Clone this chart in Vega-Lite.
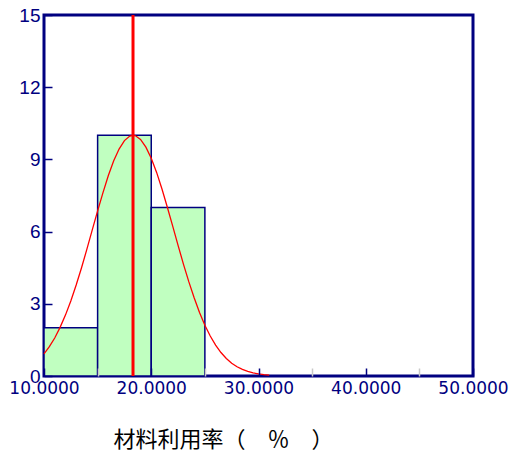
{
  "$schema": "https://vega.github.io/schema/vega-lite/v6.json",
  "width": 429,
  "height": 361,
  "autosize": "none",
  "padding": {"left": 44, "top": 15, "right": 39, "bottom": 79},
  "background": "white",
  "config": {"view": {"stroke": "#000080", "strokeWidth": 3}},
  "datasets": {
    "bins": [
      {"lo": 10, "hi": 15, "count": 2},
      {"lo": 15, "hi": 20, "count": 10},
      {"lo": 20, "hi": 25, "count": 7}
    ],
    "curve": [
      {"x": 10, "y": 0.92}, {"x": 10.5, "y": 1.22}, {"x": 11, "y": 1.58}, {"x": 11.5, "y": 2.02},
      {"x": 12, "y": 2.53}, {"x": 12.5, "y": 3.12}, {"x": 13, "y": 3.78}, {"x": 13.5, "y": 4.5},
      {"x": 14, "y": 5.27}, {"x": 14.5, "y": 6.07}, {"x": 15, "y": 6.86}, {"x": 15.5, "y": 7.62},
      {"x": 16, "y": 8.33}, {"x": 16.5, "y": 8.94}, {"x": 17, "y": 9.43}, {"x": 17.5, "y": 9.78},
      {"x": 18, "y": 9.97}, {"x": 18.3, "y": 10}, {"x": 18.5, "y": 9.99}, {"x": 19, "y": 9.83},
      {"x": 19.5, "y": 9.51}, {"x": 20, "y": 9.05}, {"x": 20.5, "y": 8.46}, {"x": 21, "y": 7.77},
      {"x": 21.5, "y": 7.01}, {"x": 22, "y": 6.23}, {"x": 22.5, "y": 5.43}, {"x": 23, "y": 4.65},
      {"x": 23.5, "y": 3.92}, {"x": 24, "y": 3.25}, {"x": 24.5, "y": 2.64}, {"x": 25, "y": 2.11},
      {"x": 25.5, "y": 1.66}, {"x": 26, "y": 1.28}, {"x": 26.5, "y": 0.975}, {"x": 27, "y": 0.727},
      {"x": 27.5, "y": 0.533}, {"x": 28, "y": 0.385}, {"x": 28.5, "y": 0.273}, {"x": 29, "y": 0.19},
      {"x": 29.5, "y": 0.13}, {"x": 30, "y": 0.087}, {"x": 30.5, "y": 0.058}, {"x": 31, "y": 0.037}
    ],
    "mean": [{"mean": 18.3}]
  },
  "layer": [
    {
      "data": {"name": "bins"},
      "mark": {"type": "rect", "fill": "#c0ffc0", "stroke": "#000080", "strokeWidth": 1.5},
      "encoding": {
        "x": {
          "field": "lo", "type": "quantitative",
          "scale": {"domain": [10, 50], "nice": false, "zero": false},
          "axis": {
            "values": [10, 15, 20, 25, 30, 35, 40, 45, 50],
            "labelExpr": "datum.value % 10 === 0 ? format(datum.value, '.4f') : ''",
            "domain": false, "grid": false,
            "tickSize": -8, "tickWidth": 1.5,
            "tickColor": {"condition": {"test": "datum.value % 10 !== 0", "value": "#c8c8c8"}, "value": "#000080"},
            "labelColor": "#000080", "labelFont": "DejaVu Sans", "labelFontSize": 17,
            "labelPadding": 12, "labelFlush": false, "labelOverlap": false,
            "zindex": 1,
            "title": "材料利用率（　％　）",
            "titleFont": "Noto Sans CJK SC", "titleFontSize": 22, "titleFontWeight": "normal",
            "titleColor": "black", "titleX": 179, "titleY": 63, "titleBaseline": "middle", "titleAlign": "center"
          }
        },
        "x2": {"field": "hi"},
        "y": {
          "field": "count", "type": "quantitative",
          "scale": {"domain": [0, 15], "nice": false},
          "axis": {
            "values": [0, 3, 6, 9, 12, 15],
            "domain": false, "grid": false,
            "tickSize": -8, "tickWidth": 1.5, "tickColor": "#000080",
            "labelColor": "#000080", "labelFont": "Liberation Sans", "labelFontSize": 19,
            "labelPadding": 12, "labelFlush": false, "labelOverlap": false,
            "zindex": 1, "title": null
          }
        },
        "y2": {"datum": 0}
      }
    },
    {
      "data": {"name": "curve"},
      "mark": {"type": "line", "color": "#ff0000", "strokeWidth": 1.3},
      "encoding": {
        "x": {"field": "x", "type": "quantitative"},
        "y": {"field": "y", "type": "quantitative"}
      }
    },
    {
      "data": {"name": "mean"},
      "mark": {"type": "rule", "color": "#ff0000", "strokeWidth": 3},
      "encoding": {
        "x": {"field": "mean", "type": "quantitative"}
      }
    }
  ]
}
